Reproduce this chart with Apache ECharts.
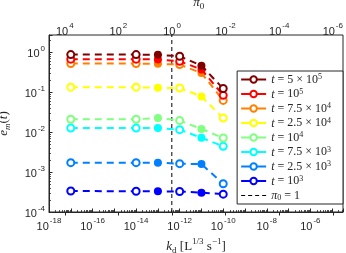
<!DOCTYPE html>
<html><head><meta charset="utf-8">
<script src="https://cdn.jsdelivr.net/npm/echarts@6/dist/echarts.min.js"></script>
<style>html,body{margin:0;padding:0;background:#fff}#c{width:346px;height:253px}</style>
</head><body><div id="c"></div>
<script>
// k_d values (x)
const kd = [1e-17, 1e-14, 1e-13, 1e-12, 1e-11, 1e-10];
// e_m(t) series
const t5e5  = [0.87, 0.87, 0.86, 0.79, 0.46, 0.123];
const t1e5  = [0.67, 0.67, 0.66, 0.59, 0.37, 0.083];
const t75e4 = [0.52, 0.52, 0.51, 0.49, 0.30, 0.062];
const t25e4 = [0.133, 0.133, 0.128, 0.127, 0.078, 0.0224];
const t1e4  = [0.021, 0.021, 0.0224, 0.0195, 0.012, 0.0071];
const t75e3 = [0.0126, 0.0126, 0.0126, 0.0115, 0.0072, 0.0044];
const t25e3 = [0.00172, 0.00172, 0.00172, 0.00162, 0.00158, 0.00051];
const t1e3  = [3.35e-4, 3.3e-4, 3.3e-4, 3.25e-4, 3.05e-4, 2.8e-4];
const seriesNames = ['t5e5','t1e5','t75e4','t25e4','t1e4','t75e3','t25e3','t1e3'];
const seriesValues = [t5e5, t1e5, t75e4, t25e4, t1e4, t75e3, t25e3, t1e3];
const seriesLabels = [
  '{i|t} = 5 × 10{p|5}',
  '{i|t} = 10{p|5}',
  '{i|t} = 7.5 × 10{p|4}',
  '{i|t} = 2.5 × 10{p|4}',
  '{i|t} = 10{p|4}',
  '{i|t} = 7.5 × 10{p|3}',
  '{i|t} = 2.5 × 10{p|3}',
  '{i|t} = 10{p|3}'
];
const colors = ['#800000','#ff0000','#ff8000','#ffff00','#80ff80','#00ffff','#0080ff','#0000ff'];
const filledIdx = [2, 4];
// pi0 = 1 reference line
const pi0Kd = Math.pow(10, -12.36);
const pi0Label = '{i|π}{s|0} = 1';
// axis extents
const xMin = 1e-18, xMax = Math.pow(10, -4.5);
const yMin = 1e-4, yMax = Math.pow(10, 0.43);
// top pi0 axis: labelled decades 1e-6 ... 1e4 (reversed)
const piMin = 1e-6, piMax = 1e4;

const ink = '#262626';
function powFmt(every) {
  return function (v) {
    const e = Math.log10(v);
    const r = Math.round(e);
    if (Math.abs(e - r) > 1e-6 || r % every !== 0) return '';
    return '{b|10}{p|' + r + '}';
  };
}
function minorTicks(lo, hi) {
  const out = [];
  for (let e = Math.floor(Math.log10(lo)); e <= Math.ceil(Math.log10(hi)); e++) {
    for (let m = 2; m <= 9; m++) {
      const v = m * Math.pow(10, e);
      if (v > lo && v < hi) out.push(v);
    }
  }
  return out;
}
const tickRich = {
  b: {fontSize: 11, fontFamily: 'Liberation Sans', color: ink, verticalAlign: 'bottom'},
  p: {fontSize: 8, fontFamily: 'Liberation Sans', color: ink, verticalAlign: 'bottom', padding: [0, 0, 7, 1]}
};
const serif = 'Liberation Serif';
const nameRich = {
  i: {fontSize: 13, fontFamily: serif, fontStyle: 'italic', color: ink, verticalAlign: 'bottom'},
  r: {fontSize: 13, fontFamily: serif, color: ink, verticalAlign: 'bottom'},
  s: {fontSize: 9, fontFamily: serif, color: ink, verticalAlign: 'bottom', padding: [0, 0, -2, 0]},
  si: {fontSize: 9, fontFamily: serif, fontStyle: 'italic', color: ink, verticalAlign: 'bottom', padding: [0, 0, -2, 0]},
  p: {fontSize: 9, fontFamily: serif, color: ink, verticalAlign: 'bottom', padding: [0, 0, 7, 0]}
};

const series = seriesNames.map((n, i) => ({
  name: n,
  type: 'line',
  xAxisIndex: 0, yAxisIndex: 0,
  data: kd.map((x, j) => filledIdx.includes(j)
    ? {value: [x, seriesValues[i][j]], symbol: 'circle', symbolSize: 6}
    : {value: [x, seriesValues[i][j]], symbol: 'emptyCircle'}),
  symbol: 'emptyCircle',
  symbolSize: 7,
  z: 10 - i,
  silent: true,
  lineStyle: {color: colors[i], width: 2, type: [7, 5]},
  itemStyle: {color: colors[i], borderColor: colors[i], borderWidth: 2},
  emphasis: {disabled: true},
  animation: false
}));
series.push({
  name: 'pi0',
  type: 'line',
  xAxisIndex: 0, yAxisIndex: 0,
  data: [[pi0Kd, yMin], [pi0Kd, yMax]],
  symbol: 'none',
  color: '#000',
  itemStyle: {color: '#000'},
  lineStyle: {color: '#000', width: 1, type: [4, 3]},
  emphasis: {disabled: true},
  silent: true,
  z: 1,
  animation: false
});
// carrier for the top pi0 axis (no marks)
series.push({type: 'line', xAxisIndex: 1, yAxisIndex: 1, data: [], silent: true});

const dashIcon = 'path://M0,0h4v1.2h-4z M7,0h4v1.2h-4z M14,0h4v1.2h-4z M21,0h4v1.2h-4z';
const legendData = seriesNames.map((n, i) => ({name: n, lineStyle: {type: 'solid'}}));
legendData.push({name: 'pi0', icon: dashIcon, itemStyle: {color: '#000', borderWidth: 0}});
const labelMap = {};
seriesNames.forEach((n, i) => labelMap[n] = seriesLabels[i]);
labelMap['pi0'] = pi0Label;

// pixel geometry of the pi0 axis relative to the main plot
const W = 346, H = 253, gL = 49, gR = 3, gT = 35, gB = 41;
const pi0X = 172, piDecade = 26.8;
const hiddenAxis = {axisLine: {show: false}, axisLabel: {show: false}, splitLine: {show: false}};

const chart = echarts.init(document.getElementById('c'), null, {renderer: 'canvas'});
chart.setOption({
  animation: false,
  backgroundColor: '#fff',
  grid: [
    {left: gL, right: gR, top: gT, bottom: gB, show: true, borderColor: ink, borderWidth: 1, backgroundColor: 'transparent', outerBoundsMode: 'none', containLabel: false},
    {left: pi0X - 4 * piDecade, right: W - (pi0X + 6 * piDecade), top: gT, bottom: gB, show: false, outerBoundsMode: 'none', containLabel: false}
  ],
  xAxis: [{
    gridIndex: 0,
    type: 'log', logBase: 10, min: xMin, max: xMax, interval: 1, position: 'bottom',
    axisLine: {show: true, lineStyle: {color: ink, width: 1}},
    axisTick: {show: true, inside: true, length: 3.5, lineStyle: {color: ink}},
    splitLine: {show: false},
    axisLabel: {formatter: powFmt(2), rich: tickRich, margin: 5, showMinLabel: true, showMaxLabel: true},
    name: '{i|k}{s|d} {r|[L}{p|1/3}{r| s}{p|−1}{r|]}',
    nameLocation: 'middle', nameGap: 25,
    nameTextStyle: {rich: nameRich}
  }, {
    gridIndex: 1,
    type: 'log', logBase: 10, min: piMin, max: piMax, inverse: true, interval: 2, position: 'top',
    axisLine: {show: false},
    axisTick: {show: true, inside: true, length: 3.5, lineStyle: {color: ink}},
    splitLine: {show: false},
    axisLabel: {formatter: powFmt(2), rich: tickRich, margin: -2, showMinLabel: true, showMaxLabel: true},
    name: '{i|π}{s|0}',
    nameLocation: 'middle', nameGap: 25.5,
    nameTextStyle: {rich: nameRich}
  }, Object.assign({
    gridIndex: 0, type: 'log', logBase: 10, min: xMin, max: xMax, position: 'bottom',
    axisTick: {show: true, inside: true, length: 2, customValues: minorTicks(xMin, xMax), lineStyle: {color: ink, width: 0.8}}
  }, hiddenAxis)],
  yAxis: [{
    gridIndex: 0,
    type: 'log', logBase: 10, min: yMin, max: yMax, interval: 1, position: 'left',
    axisLine: {show: true, lineStyle: {color: ink, width: 1}},
    axisTick: {show: true, inside: true, length: 3.5, lineStyle: {color: ink}},
    splitLine: {show: false},
    axisLabel: {formatter: powFmt(1), rich: tickRich, margin: 4},
    name: '{i|e}{si|m}{r|(}{i|t}{r|)}',
    nameLocation: 'middle', nameGap: 39, nameRotate: 90,
    nameTextStyle: {rich: nameRich}
  }, {
    gridIndex: 1, type: 'value', min: 0, max: 1, show: false
  }, Object.assign({
    gridIndex: 0, type: 'log', logBase: 10, min: yMin, max: yMax, position: 'left',
    axisTick: {show: true, inside: true, length: 2, customValues: minorTicks(yMin, yMax), lineStyle: {color: ink, width: 0.8}}
  }, hiddenAxis)],
  legend: {
    data: legendData,
    orient: 'vertical',
    right: 3, top: 71,
    itemWidth: 25, itemHeight: 8, itemGap: 1.5,
    padding: [2, 12, 2, 3],
    backgroundColor: '#fff',
    borderColor: ink, borderWidth: 1, borderRadius: 0,
    selectedMode: false,
    formatter: n => labelMap[n],
    textStyle: {rich: {
      i: {fontSize: 12, lineHeight: 13, fontFamily: serif, fontStyle: 'italic', color: ink, verticalAlign: 'bottom'},
      s: {fontSize: 8, lineHeight: 8, fontFamily: serif, color: ink, verticalAlign: 'bottom', padding: [0, 0, 0, 0]},
      p: {fontSize: 8, lineHeight: 8, fontFamily: serif, color: ink, verticalAlign: 'bottom', padding: [0, 0, 5, 0]}
    }, fontSize: 12, lineHeight: 13, fontFamily: serif, color: ink}
  },
  series: series
});
</script>
</body></html>
